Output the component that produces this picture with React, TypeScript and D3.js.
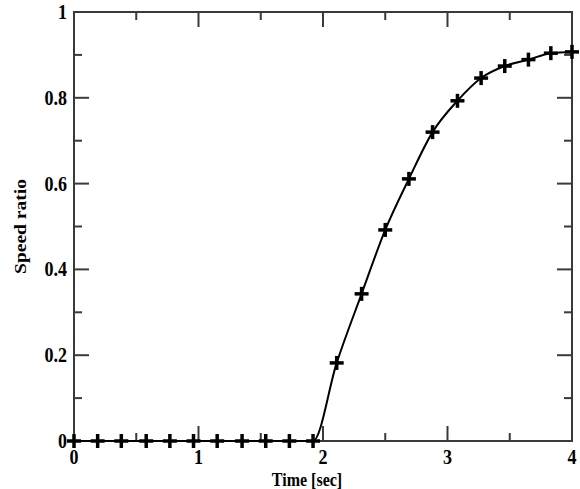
import { useEffect, useRef } from 'react'
import * as d3 from 'd3'

// sample times (sec) and measured speed ratio
const times = [0, 0.19, 0.38, 0.58, 0.77, 0.96, 1.15, 1.35, 1.54, 1.73, 1.92,
  2.11, 2.31, 2.5, 2.69, 2.88, 3.08, 3.27, 3.46, 3.65, 3.83, 4.0]
const speedRatio = [0, 0, 0, 0, 0, 0, 0, 0, 0, 0, 0,
  0.182, 0.343, 0.492, 0.611, 0.72, 0.793, 0.846, 0.874, 0.889, 0.904, 0.907]

const xMajor = [0, 1, 2, 3, 4]
const xMinor = [0.5, 1.5, 2.5, 3.5]
const yMajor = [0, 0.2, 0.4, 0.6, 0.8, 1]
const yMinor = [0.1, 0.3, 0.5, 0.7, 0.9]
const yLabels = ['0', '0.2', '0.4', '0.6', '0.8', '1']

export default function App() {
  const svgRef = useRef<SVGSVGElement | null>(null)

  useEffect(() => {
    document.body.style.margin = '0'
    if (!svgRef.current) return
    const svg = d3.select(svgRef.current)
    svg.selectAll('*').remove()

    const left = 74, right = 572, top = 12, bottom = 441
    const x = d3.scaleLinear().domain([0, 4]).range([left, right])
    const y = d3.scaleLinear().domain([0, 1]).range([bottom, top])
    const frame = '#3a3a3a'
    const font = '"Liberation Serif", "Times New Roman", serif'

    const g = svg.append('g')

    // ticks, inward on all four sides
    const tick = (x1: number, y1: number, x2: number, y2: number) =>
      g.append('line').attr('x1', x1).attr('y1', y1).attr('x2', x2).attr('y2', y2)
        .attr('stroke', frame).attr('stroke-width', 2)

    xMajor.forEach(v => { tick(x(v), bottom, x(v), bottom - 15); tick(x(v), top, x(v), top + 15) })
    xMinor.forEach(v => { tick(x(v), bottom, x(v), bottom - 8); tick(x(v), top, x(v), top + 8) })
    yMajor.forEach(v => { tick(left, y(v), left + 15, y(v)); tick(right, y(v), right - 15, y(v)) })
    yMinor.forEach(v => { tick(left, y(v), left + 8, y(v)); tick(right, y(v), right - 8, y(v)) })

    g.append('rect')
      .attr('x', left).attr('y', top).attr('width', right - left).attr('height', bottom - top)
      .attr('fill', 'none').attr('stroke', frame).attr('stroke-width', 2)

    // tick labels
    xMajor.forEach(v => {
      g.append('text')
        .attr('transform', `translate(${x(v)},${bottom + 23}) scale(1,1.2)`)
        .attr('text-anchor', 'middle')
        .style('font-family', font).style('font-weight', 'bold').style('font-size', '18px')
        .text(String(v))
    })
    yMajor.forEach((v, i) => {
      g.append('text')
        .attr('transform', `translate(${left - 7},${y(v) + 7}) scale(1,1.2)`)
        .attr('text-anchor', 'end')
        .style('font-family', font).style('font-weight', 'bold').style('font-size', '18px')
        .text(yLabels[i])
    })

    // axis titles
    g.append('text')
      .attr('transform', `translate(307,${bottom + 45}) scale(1,1.2)`)
      .attr('text-anchor', 'middle')
      .style('font-family', font).style('font-weight', 'bold').style('font-size', '16px')
      .text('Time [sec]')
    g.append('text')
      .attr('transform', `translate(26,${(top + bottom) / 2}) rotate(-90) scale(1.22,1)`)
      .attr('text-anchor', 'middle')
      .style('font-family', font).style('font-weight', 'bold').style('font-size', '16px')
      .text('Speed ratio')

    // curve
    const pts = times.map((t, i) => [t, speedRatio[i]] as [number, number])
    const line = d3.line<[number, number]>()
      .x(d => x(d[0])).y(d => y(d[1]))
      .curve(d3.curveMonotoneX)
    g.append('path').datum(pts)
      .attr('d', line).attr('fill', 'none').attr('stroke', '#000').attr('stroke-width', 2)

    // plus markers
    const mk = g.selectAll('.mk').data(pts).enter().append('g')
      .attr('class', 'mk')
      .attr('transform', d => `translate(${x(d[0])},${y(d[1])})`)
    mk.append('line').attr('x1', -7).attr('x2', 7).attr('y1', 0).attr('y2', 0)
      .attr('stroke', '#000').attr('stroke-width', 3.5)
    mk.append('line').attr('x1', 0).attr('x2', 0).attr('y1', -7).attr('y2', 7)
      .attr('stroke', '#000').attr('stroke-width', 3.5)
  }, [])

  return (
    <svg ref={svgRef} width={580} height={489} style={{ display: 'block', background: '#fff' }}></svg>
  )
}
